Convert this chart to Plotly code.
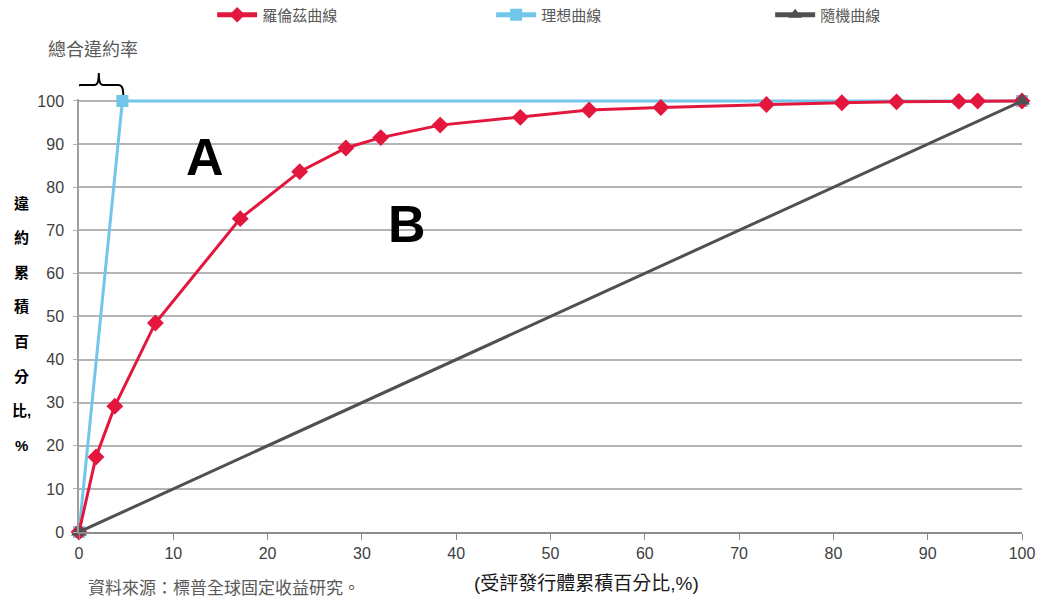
import plotly.graph_objects as go

# ---- data ----
lorenz_x = [0, 1.8, 3.8, 8.1, 17.1, 23.4, 28.3, 32.0, 38.3, 46.8, 54.1, 61.7, 72.9, 80.9, 86.7, 93.3, 95.3, 100]
lorenz_y = [0, 17.4, 29.2, 48.5, 72.7, 83.6, 89.1, 91.5, 94.4, 96.2, 97.9, 98.5, 99.2, 99.6, 99.8, 99.9, 100, 100]
ideal_x = [0, 4.6, 100]
ideal_y = [0, 100, 100]
random_x = [0, 100]
random_y = [0, 100]

names = ["羅倫茲曲線", "理想曲線", "隨機曲線"]
x_ticks = [0, 10, 20, 30, 40, 50, 60, 70, 80, 90, 100]
y_ticks = [0, 10, 20, 30, 40, 50, 60, 70, 80, 90, 100]
y_title_chars = ["違", "約", "累", "積", "百", "分", "比,", "%"]

FONT = "Liberation Sans, Arial, Noto Sans CJK TC, sans-serif"
RED = "#E3173E"
BLUE = "#72C6EA"
DARK = "#505050"
GRID = "#B4B4B4"

L, R, T, B = 79, 17, 99, 68
W, H = 1039, 600
pw, ph = W - L - R, H - T - B
Y_TOP = 100.46


def px_x(p):
    return (p - L) / pw


def px_y(p):
    return (H - B - p) / ph


fig = go.Figure()
fig.add_trace(go.Scatter(x=ideal_x, y=ideal_y, name=names[1], mode="lines+markers",
                         line=dict(color=BLUE, width=3),
                         marker=dict(symbol="square", size=12, color=BLUE),
                         cliponaxis=False, legendrank=2))
fig.add_trace(go.Scatter(x=lorenz_x, y=lorenz_y, name=names[0], mode="lines+markers",
                         line=dict(color=RED, width=3),
                         marker=dict(symbol="diamond", size=13, color=RED),
                         cliponaxis=False, legendrank=1))
fig.add_trace(go.Scatter(x=random_x, y=random_y, name=names[2], mode="lines+markers",
                         line=dict(color=DARK, width=3),
                         marker=dict(symbol="triangle-up", size=14, color=DARK),
                         cliponaxis=False, legendrank=3))

annotations = []
# A / B labels
annotations.append(dict(x=13.4, y=87, xref="x", yref="y", text="<b>A</b>", showarrow=False,
                        font=dict(family=FONT, size=52, color="#000000")))
annotations.append(dict(x=34.8, y=71.5, xref="x", yref="y", text="<b>B</b>", showarrow=False,
                        font=dict(family=FONT, size=52, color="#000000")))
# total default rate label
annotations.append(dict(x=px_x(46), y=px_y(50), xref="paper", yref="paper",
                        xanchor="left", yanchor="middle",
                        text="總合違約率", showarrow=False,
                        font=dict(family=FONT, size=18, color="#595959")))
# vertical y-axis title
for i, ch in enumerate(y_title_chars):
    annotations.append(dict(x=px_x(21), y=px_y(203 + i * 34.6), xref="paper", yref="paper",
                            text="<b>%s</b>" % ch, showarrow=False,
                            xanchor="center", yanchor="middle",
                            font=dict(family=FONT, size=15, color="#000000")))
# x-axis title
annotations.append(dict(x=px_x(586), y=px_y(583), xref="paper", yref="paper",
                        text="(受評發行體累積百分比,%)", showarrow=False,
                        xanchor="center", yanchor="middle",
                        font=dict(family=FONT, size=19, color="#1a1a1a")))
# source note
annotations.append(dict(x=px_x(86), y=px_y(588), xref="paper", yref="paper",
                        text="資料來源：標普全球固定收益研究。", showarrow=False,
                        xanchor="left", yanchor="middle",
                        font=dict(family=FONT, size=17, color="#595959")))

# bracket above the ideal segment (vertical positions in pixels -> paper)
yb_end, yb_top, yb_tip = px_y(95), px_y(85), px_y(73)
brace = ("M -0.35,{e:.4f} Q -0.35,{t:.4f} 0.15,{t:.4f} L 1.7,{t:.4f} Q 2.1,{t:.4f} 2.1,{p:.4f} "
         "Q 2.1,{t:.4f} 2.5,{t:.4f} L 4.2,{t:.4f} Q 4.7,{t:.4f} 4.7,{e:.4f}").format(
    e=yb_end, t=yb_top, p=yb_tip)

fig.update_layout(
    width=W, height=H,
    margin=dict(l=L, r=R, t=T, b=B, autoexpand=False),
    paper_bgcolor="white", plot_bgcolor="white",
    font=dict(family=FONT, size=16, color="#404040"),
    showlegend=True,
    legend=dict(orientation="h", x=0.585, xanchor="center", y=1 - 15 / 600, yanchor="middle",
                yref="container",
                entrywidth=224, font=dict(family=FONT, size=15, color="#595959"),
                itemwidth=40, itemsizing="constant", bgcolor="rgba(0,0,0,0)"),
    xaxis=dict(range=[0, 100], tickvals=x_ticks, showgrid=False, zeroline=False,
               automargin=False,
               showline=True, linecolor="#8C8C8C", linewidth=1.5,
               ticks="outside", ticklen=6, tickcolor="#8C8C8C", tickwidth=1,
               tickfont=dict(family=FONT, size=16, color="#404040")),
    yaxis=dict(range=[0, Y_TOP], tickvals=y_ticks, showgrid=True, gridcolor=GRID, gridwidth=1.5,
               automargin=False,
               zeroline=False, showline=True, linecolor="#A0A0A0", linewidth=1.5,
               ticks="outside", ticklen=4, tickcolor=GRID,
               tickfont=dict(family=FONT, size=16, color="#404040"), ticklabelstandoff=6),
    annotations=annotations,
    shapes=[dict(type="path", path=brace, xref="x", yref="paper",
                 line=dict(color="#000000", width=2))],
)

fig.write_html("out.html", config={"displayModeBar": False},
               post_script="document.body.style.margin='0';")
